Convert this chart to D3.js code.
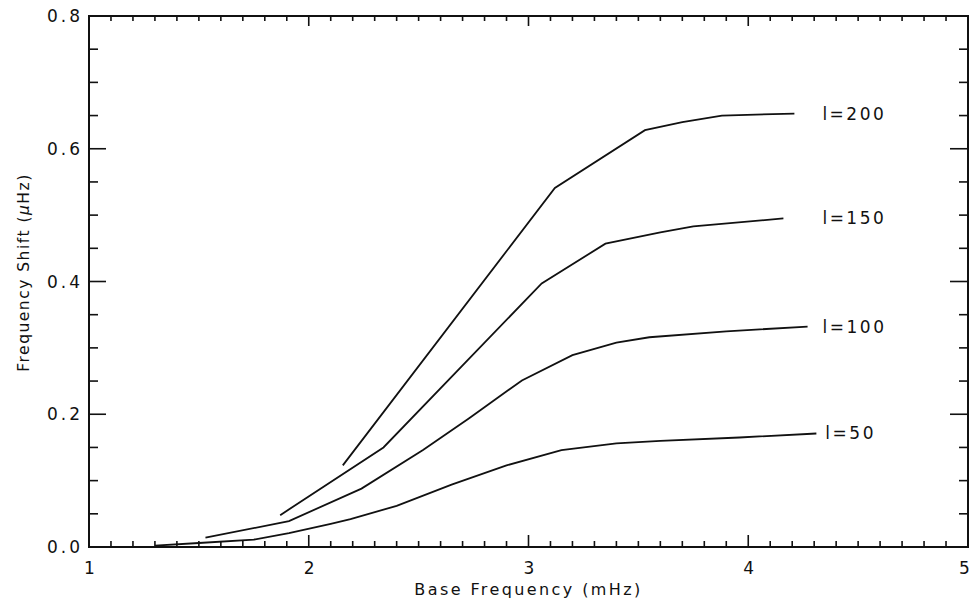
<!DOCTYPE html>
<html>
<head>
<meta charset="utf-8">
<script src="https://cdn.jsdelivr.net/npm/d3@7"></script>
<style>
  body { margin: 0; background: #fff; }
  svg text { font-family: "DejaVu Sans", sans-serif; fill: #111; }
  .tick-label { font-size: 17px; letter-spacing: 3px; }
  .axis-title { font-size: 16px; letter-spacing: 2.4px; }
  .y-title { font-size: 15.5px; letter-spacing: 1.5px; }
  .curve-label { font-size: 17px; letter-spacing: 2.5px; }
  .curve { fill: none; stroke: #111; stroke-width: 1.8; }
  .frame { fill: none; stroke: #111; stroke-width: 2; }
  .tick { stroke: #111; stroke-width: 1.6; }
</style>
</head>
<body>
<div id="chart"></div>
<script>
// base frequency (mHz) vs frequency shift (uHz), one array per degree l
const l50 = [[1.30, 0.002], [1.50, 0.006], [1.75, 0.011], [1.91, 0.021], [2.10, 0.035], [2.19, 0.042],
  [2.40, 0.062], [2.65, 0.094], [2.90, 0.123], [3.15, 0.146], [3.40, 0.156], [3.60, 0.160],
  [3.96, 0.165], [4.31, 0.171]];
const l100 = [[1.53, 0.014], [1.91, 0.039], [2.24, 0.088], [2.52, 0.146], [2.73, 0.194], [2.97, 0.251],
  [3.20, 0.289], [3.40, 0.308], [3.55, 0.316], [3.90, 0.325], [4.27, 0.332]];
const l150 = [[1.87, 0.048], [2.34, 0.150], [3.06, 0.397], [3.35, 0.457], [3.60, 0.474],
  [3.75, 0.483], [4.16, 0.495]];
const l200 = [[2.155, 0.123], [3.12, 0.541], [3.53, 0.628], [3.70, 0.640], [3.88, 0.650], [4.21, 0.653]];

const series = [
  { label: 'l=50', values: l50, dx: 9 },
  { label: 'l=100', values: l100, dx: 15 },
  { label: 'l=150', values: l150, dx: 39 },
  { label: 'l=200', values: l200, dx: 28 }
];

const xTicks = [1, 2, 3, 4, 5];
const yTicks = [0.0, 0.2, 0.4, 0.6, 0.8];

const width = 975, height = 601;
const margin = { top: 16, right: 7, bottom: 54, left: 89 };

const svg = d3.select('#chart').append('svg')
  .attr('width', width)
  .attr('height', height);

const x = d3.scaleLinear().domain([1, 5]).range([margin.left, width - margin.right]);
const y = d3.scaleLinear().domain([0, 0.8]).range([height - margin.bottom, margin.top]);

const x0 = x.range()[0], x1 = x.range()[1];
const y0 = y.range()[0], y1 = y.range()[1];

// ticks on all four sides, minor every 0.1 on x and 0.05 on y
const xMinor = d3.range(10, 51).map(d => d / 10);
const yMinor = d3.range(0, 17).map(d => d * 0.05);
const isMajor = (v, step) => Math.abs(v / step - Math.round(v / step)) < 1e-6;

const ticks = svg.append('g');
xMinor.forEach(v => {
  const major = isMajor(v, 1);
  ticks.append('line').attr('class', 'tick')
    .attr('x1', x(v)).attr('x2', x(v))
    .attr('y1', y0).attr('y2', y0 - (major ? 12 : 6));
  ticks.append('line').attr('class', 'tick')
    .attr('x1', x(v)).attr('x2', x(v))
    .attr('y1', y1).attr('y2', y1 + (major ? 10 : 5));
});
yMinor.forEach(v => {
  const major = isMajor(v, 0.2);
  ticks.append('line').attr('class', 'tick')
    .attr('x1', x0).attr('x2', x0 + (major ? 17 : 9))
    .attr('y1', y(v)).attr('y2', y(v));
  ticks.append('line').attr('class', 'tick')
    .attr('x1', x1).attr('x2', x1 - (major ? 18 : 9))
    .attr('y1', y(v)).attr('y2', y(v));
});

svg.append('rect').attr('class', 'frame')
  .attr('x', x0).attr('y', y1)
  .attr('width', x1 - x0).attr('height', y0 - y1);

// tick labels (last one pulled in so it stays inside the page)
svg.append('g').selectAll('text').data(xTicks).join('text')
  .attr('class', 'tick-label')
  .attr('x', d => Math.min(x(d) + 2, width - 9))
  .attr('y', y0 + 27)
  .attr('text-anchor', 'middle')
  .text(d => d);

svg.append('g').selectAll('text').data(yTicks).join('text')
  .attr('class', 'tick-label')
  .attr('x', x0 - 6)
  .attr('y', d => y(d) + 6)
  .attr('text-anchor', 'end')
  .text(d => d.toFixed(1));

// axis titles
svg.append('text').attr('class', 'axis-title')
  .attr('x', x(3))
  .attr('y', 595)
  .attr('text-anchor', 'middle')
  .text('Base Frequency (mHz)');

svg.append('text').attr('class', 'y-title')
  .attr('transform', `translate(29, ${y(0.4) - 9}) rotate(-90)`)
  .attr('text-anchor', 'middle')
  .html('Frequency Shift (<tspan font-style="italic">μ</tspan>Hz)');

// curves
const line = d3.line().x(d => x(d[0])).y(d => y(d[1]));

svg.append('g').selectAll('path').data(series).join('path')
  .attr('class', 'curve')
  .attr('d', d => line(d.values));

svg.append('g').selectAll('text').data(series).join('text')
  .attr('class', 'curve-label')
  .attr('x', d => x(d.values[d.values.length - 1][0]) + d.dx)
  .attr('y', d => y(d.values[d.values.length - 1][1]) + 6)
  .text(d => d.label);
</script>
</body>
</html>
